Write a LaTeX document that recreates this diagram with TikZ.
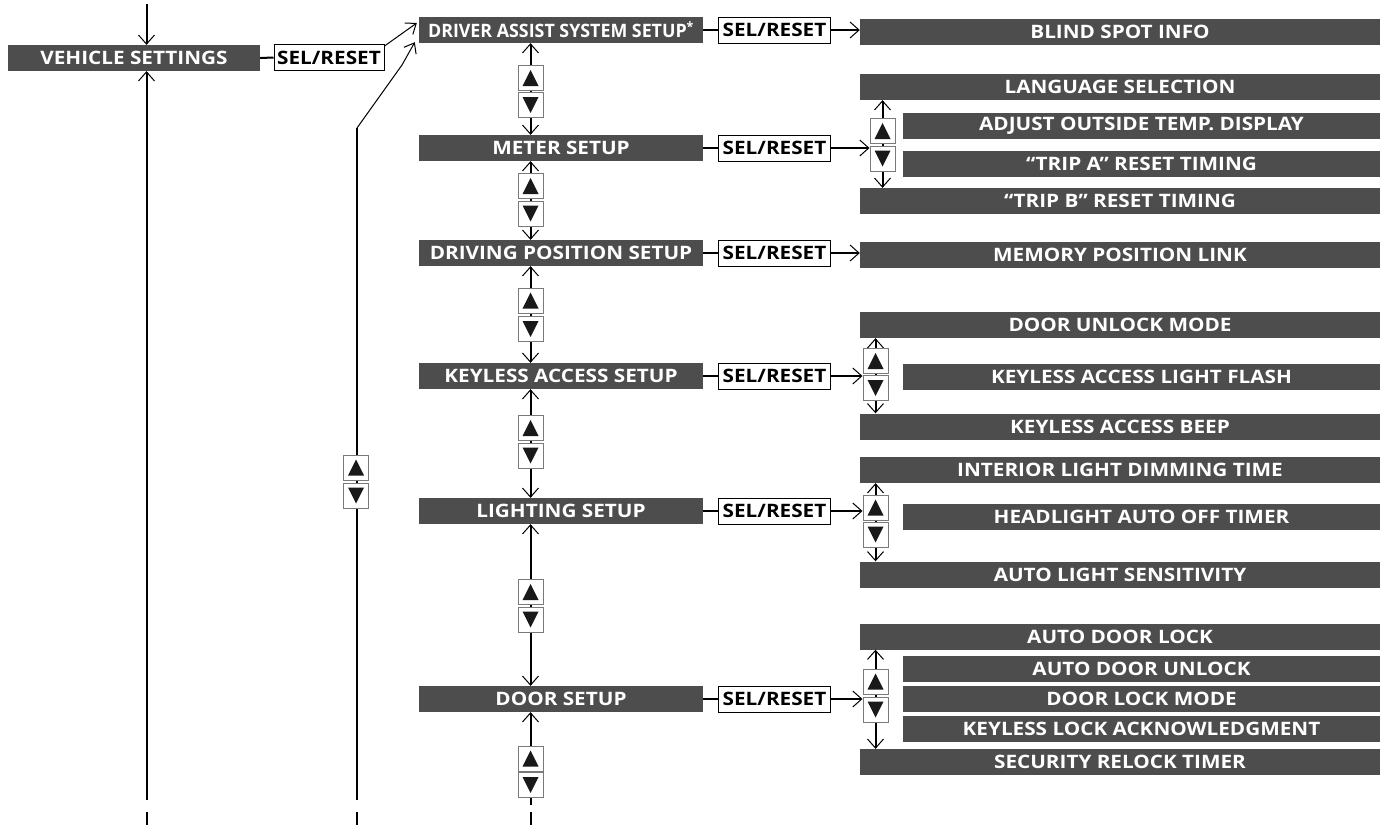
\documentclass[tikz,border=0pt]{standalone}
\usepackage{fontspec}
\usepackage{graphicx}
\setmainfont{Open Sans}[FakeStretch=1.12]
\usetikzlibrary{arrows.meta,calc}
\definecolor{boxgray}{HTML}{4D4D4D}
\definecolor{btngray}{HTML}{7A7A7A}
\tikzset{
  lbl/.style={font=\bfseries\fontsize{18.5}{19}\selectfont, inner sep=0pt, anchor=center},
  dbox/.style={lbl, fill=boxgray, text=white, minimum height=26pt},
  midbox/.style={dbox, minimum width=284pt},
  widebox/.style={dbox, minimum width=520pt},
  indbox/.style={dbox, minimum width=477pt},
  selbox/.style={lbl, draw=black, fill=white, line width=1pt, minimum width=112pt, minimum height=26pt},
  btn/.style={draw=btngray, fill=white, line width=1pt, minimum width=25pt, minimum height=25pt, inner sep=0pt, anchor=center},
  upbtn/.style={btn, path picture={\fill[black!90] ($(path picture bounding box.center)+(0pt,8pt)$) -- ++(-8pt,-16pt) -- ++(16pt,0pt) -- cycle;}},
  dnbtn/.style={btn, path picture={\fill[black!90] ($(path picture bounding box.center)+(0pt,-8pt)$) -- ++(-8pt,16pt) -- ++(16pt,0pt) -- cycle;}},
  conn/.style={line width=2pt, arrows={-Straight Barb[length=9pt,width=16pt,line width=1pt]}},
  conn2/.style={line width=2pt, arrows={Straight Barb[length=9pt,width=16pt,line width=1pt]-Straight Barb[length=9pt,width=16pt,line width=1pt]}},
  plain/.style={line width=2pt},
}
\begin{document}
\begin{tikzpicture}[x=1pt,y=-1pt]
\useasboundingbox (0,0) rectangle (1385,825);

% ---------- coordinates for vertical rails ----------
\coordinate (lx) at (146.5,0);
\coordinate (nx) at (357,0);
\coordinate (mx) at (530.5,0);
\coordinate (r1) at (882.5,0);
\coordinate (r2) at (875.5,0);

% ---------- left column ----------
\node[dbox, minimum width=252pt] (vs) at (134,58) {VEHICLE SETTINGS};
\node[selbox, minimum width=110pt] (sel0) at (329,57.5) {SEL/RESET};

% ---------- middle column ----------
\node[midbox] (das)   at (561,30)  {\scalebox{0.86}[1]{DRIVER ASSIST SYSTEM SETUP\textsuperscript{*}}};
\node[midbox] (meter) at (561,148) {METER SETUP};
\node[midbox] (dps)   at (561,253) {DRIVING POSITION SETUP};
\node[midbox] (key)   at (561,376) {KEYLESS ACCESS SETUP};
\node[midbox] (light) at (561,511) {LIGHTING SETUP};
\node[midbox] (door)  at (561,699) {DOOR SETUP};

\node[selbox] (s1) at (774.5,30)  {SEL/RESET};
\node[selbox] (s2) at (774.5,148) {SEL/RESET};
\node[selbox] (s3) at (774.5,253) {SEL/RESET};
\node[selbox] (s4) at (774.5,376) {SEL/RESET};
\node[selbox] (s5) at (774.5,511) {SEL/RESET};
\node[selbox] (s6) at (774.5,699) {SEL/RESET};

% ---------- right column ----------
\node[widebox] (blind) at (1120,31.5) {BLIND SPOT INFO};
\node[widebox] (lang)  at (1120,87)   {LANGUAGE SELECTION};
\node[indbox]  (adj)   at (1141.5,126) {ADJUST OUTSIDE TEMP. DISPLAY};
\node[indbox]  (tripa) at (1141.5,164) {“TRIP A” RESET TIMING};
\node[widebox] (tripb) at (1120,201)  {“TRIP B” RESET TIMING};
\node[widebox] (mem)   at (1120,255)  {MEMORY POSITION LINK};
\node[widebox] (dul)   at (1120,325)  {DOOR UNLOCK MODE};
\node[indbox]  (kalf)  at (1141.5,376.5) {KEYLESS ACCESS LIGHT FLASH};
\node[widebox] (kab)   at (1120,426.5) {KEYLESS ACCESS BEEP};
\node[widebox] (ild)   at (1120,470)  {INTERIOR LIGHT DIMMING TIME};
\node[indbox]  (hl)    at (1141.5,516.5) {HEADLIGHT AUTO OFF TIMER};
\node[widebox] (als)   at (1120,574.5) {AUTO LIGHT SENSITIVITY};
\node[widebox] (adl)   at (1120,636.5) {AUTO DOOR LOCK};
\node[indbox]  (adu)   at (1141.5,668.5) {AUTO DOOR UNLOCK};
\node[indbox]  (dlm)   at (1141.5,699) {DOOR LOCK MODE};
\node[indbox]  (kla)   at (1141.5,729) {KEYLESS LOCK ACKNOWLEDGMENT};
\node[widebox] (srt)   at (1120,762)  {SECURITY RELOCK TIMER};

% ---------- free ends ----------
\coordinate (ltop) at (146.5,4);
\coordinate (lbot) at (146.5,800);
\coordinate (nbot) at (357,800);
\coordinate (nbend) at (357,128);
\coordinate (nend) at (402,65);
\coordinate (mbot) at (530.5,805);
\coordinate (ld1) at (146.5,812);
\coordinate (ld2) at (146.5,825);
\coordinate (nd1) at (357,812);
\coordinate (nd2) at (357,825);
\coordinate (md1) at (530.5,812);
\coordinate (md2) at (530.5,825);

% ---------- connectors: left ----------
\draw[conn] (ltop) -- (vs.north -| lx);
\draw[conn] (lbot) -- (vs.south -| lx);
\draw[plain] (ld1) -- (ld2);
\draw[plain] (vs.east) -- (sel0.west);
\draw[line width=1pt, arrows={-Straight Barb[length=9pt,width=14pt,line width=1pt]}] ([yshift=-2pt]sel0.north east) -- ([xshift=-2pt,yshift=7pt]das.west);
\draw[plain] (nbot) -- (nbend);
\draw[line width=1pt] (nbend) -- (nend);
\draw[line width=1pt, arrows={-Straight Barb[length=9pt,width=14pt,line width=1pt]}] (nend) -- ([xshift=-4pt,yshift=1pt]das.south west);
\draw[plain] (nd1) -- (nd2);

% ---------- connectors: middle rail ----------
\draw[conn2] (das.south -| mx) -- (meter.north -| mx);
\draw[conn2] (meter.south -| mx) -- (dps.north -| mx);
\draw[conn2] (dps.south -| mx) -- (key.north -| mx);
\draw[conn2] (key.south -| mx) -- (light.north -| mx);
\draw[conn2] (light.south -| mx) -- (door.north -| mx);
\draw[conn] (mbot) -- (door.south -| mx);
\draw[plain] (md1) -- (md2);

% ---------- connectors: box to SEL/RESET ----------
\foreach \a/\b in {das/s1, meter/s2, dps/s3, key/s4, light/s5, door/s6}
  \draw[plain] (\a.east) -- (\b.west);

\draw[conn] (s1.east) -- (s1.east -| blind.west);
\draw[conn] (s3.east) -- (s3.east -| mem.west);

% ---------- right rails ----------
\draw[conn2] (lang.south -| r1) -- (tripb.north -| r1);
\draw[conn2] (dul.south -| r2) -- (kab.north -| r2);
\draw[conn2] (ild.south -| r2) -- (als.north -| r2);
\draw[conn2] (adl.south -| r2) -- (srt.north -| r2);

% ---------- buttons ----------
\node[upbtn] (b1u) at (530.5,78)    {};
\node[dnbtn] (b1d) at (530.5,105)   {};
\node[upbtn] (b2u) at (530.5,186)   {};
\node[dnbtn] (b2d) at (530.5,213.5) {};
\node[upbtn] (b3u) at (530.5,300.5) {};
\node[dnbtn] (b3d) at (530.5,329)   {};
\node[upbtn] (b4u) at (530.5,428)   {};
\node[dnbtn] (b4d) at (530.5,455.5) {};
\node[upbtn] (b5u) at (530.5,592)   {};
\node[dnbtn] (b5d) at (530.5,619.5) {};
\node[upbtn] (b6u) at (530.5,758.5) {};
\node[dnbtn] (b6d) at (530.5,785)   {};
\node[upbtn] (bnu) at (356,467.5)   {};
\node[dnbtn] (bnd) at (356,495.5)   {};
\node[upbtn] (rmu) at (882.5,131)   {};
\node[dnbtn] (rmd) at (882.5,158.5) {};
\node[upbtn] (rku) at (875.5,361)   {};
\node[dnbtn] (rkd) at (875.5,388)   {};
\node[upbtn] (rlu) at (875.5,507.5) {};
\node[dnbtn] (rld) at (875.5,534.5) {};
\node[upbtn] (rdu) at (875.5,681.5) {};
\node[dnbtn] (rdd) at (875.5,709.5) {};

% ---------- SEL/RESET to button pairs ----------
\draw[conn] (s2.east) -- (s2.east -| rmu.west);
\draw[conn] (s4.east) -- (s4.east -| rku.west);
\draw[conn] (s5.east) -- (s5.east -| rlu.west);
\draw[conn] (s6.east) -- (s6.east -| rdu.west);
\end{tikzpicture}
\end{document}
